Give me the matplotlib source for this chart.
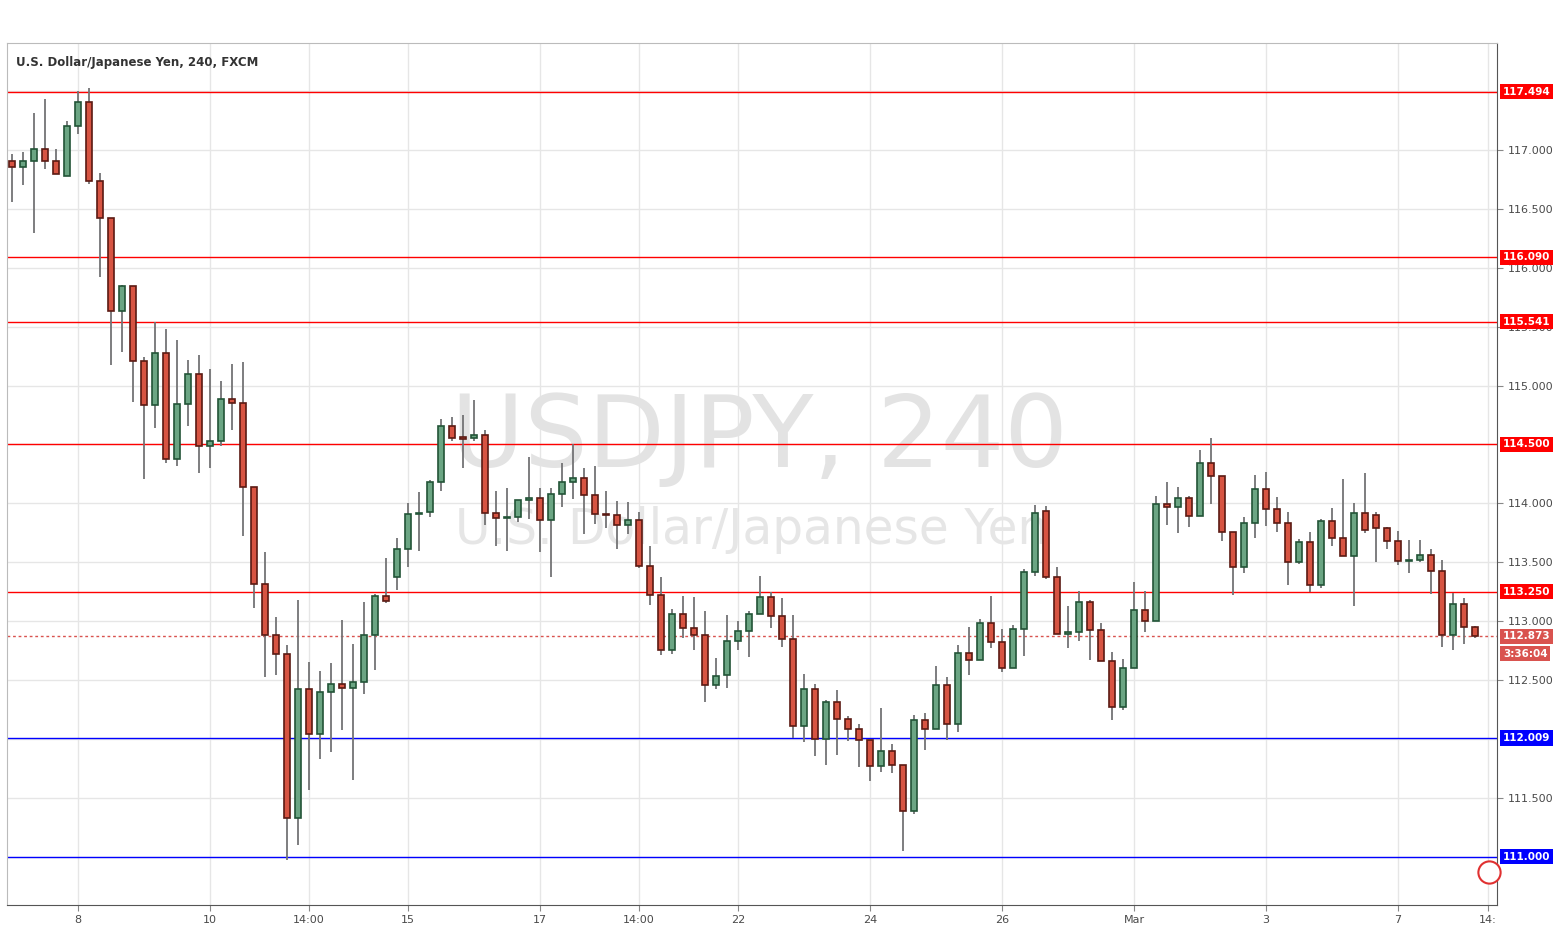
import matplotlib
matplotlib.use("Agg")
import matplotlib.pyplot as plt
import matplotlib.transforms as mtransforms
import numpy as np

opens = [116.904,116.853,116.904,117.005,116.904,116.776,117.201,117.404,116.734,116.420,
         115.630,115.842,115.206,114.832,115.274,114.374,114.841,115.095,114.487,114.527,
         114.883,114.849,114.136,113.313,112.880,112.719,111.326,112.421,112.040,112.396,
         112.464,112.430,112.481,112.880,113.211,113.372,113.610,113.910,113.924,114.179,
         114.654,114.555,114.552,114.578,113.916,113.873,113.887,114.026,114.043,113.856,
         114.077,114.179,114.213,114.068,113.907,113.899,113.814,113.856,113.466,113.220,
         112.753,113.058,112.939,112.880,112.456,112.541,112.829,112.914,113.058,113.203,
         113.041,112.846,112.108,112.422,111.997,112.311,112.167,112.082,111.989,111.768,
         111.895,111.777,111.386,112.158,112.082,112.456,112.125,112.727,112.668,112.982,
         112.821,112.600,112.931,113.415,113.933,113.372,112.889,112.906,113.160,112.923,
         112.659,112.269,112.600,113.092,112.999,113.999,113.966,114.043,113.890,114.340,
         114.230,113.754,113.457,113.831,114.119,113.950,113.831,113.500,113.670,113.304,
         113.848,113.703,113.551,113.916,113.899,113.788,113.678,113.508,113.517,113.559,
         113.423,112.880,113.143,112.948]
closes = [116.853,116.904,117.005,116.904,116.793,117.201,117.404,116.734,116.420,115.630,
          115.842,115.206,114.832,115.274,114.374,114.844,115.095,114.487,114.527,114.883,
          114.849,114.136,113.313,112.880,112.719,111.326,112.421,112.040,112.396,112.464,
          112.430,112.481,112.880,113.211,113.169,113.610,113.907,113.921,114.179,114.654,
          114.552,114.550,114.578,113.916,113.873,113.887,114.026,114.043,113.856,114.077,
          114.179,114.213,114.068,113.907,113.899,113.814,113.856,113.466,113.220,112.753,
          113.058,112.939,112.880,112.456,112.532,112.829,112.914,113.058,113.203,113.041,
          112.846,112.108,112.422,111.997,112.311,112.167,112.082,111.989,111.768,111.895,
          111.777,111.386,112.158,112.082,112.456,112.125,112.727,112.668,112.982,112.821,
          112.600,112.931,113.415,113.916,113.372,112.889,112.906,113.160,112.923,112.659,
          112.269,112.600,113.092,112.999,113.999,113.966,114.043,113.890,114.340,114.230,
          113.754,113.457,113.831,114.119,113.950,113.831,113.500,113.670,113.304,113.848,
          113.703,113.551,113.916,113.771,113.788,113.678,113.508,113.517,113.559,113.423,
          112.880,113.143,112.948,112.873]
highs = [116.966,116.983,117.314,117.433,117.008,117.246,117.498,117.526,116.805,116.420,
         115.854,115.842,115.242,115.543,115.480,115.387,115.217,115.260,115.141,115.039,
         115.183,115.200,114.136,113.587,113.036,112.798,113.180,112.654,112.577,112.645,
         113.010,112.806,113.163,113.231,113.536,113.706,114.001,114.097,114.199,114.716,
         114.733,114.750,114.878,114.623,114.105,114.131,114.026,114.394,114.131,114.131,
         114.343,114.504,114.300,114.317,114.105,114.020,114.012,113.927,113.641,113.372,
         113.101,113.211,113.203,113.089,112.688,113.050,112.999,113.084,113.381,113.245,
         113.194,113.050,112.549,112.464,112.328,112.413,112.193,112.125,111.989,112.260,
         111.955,111.777,112.201,112.218,112.617,112.524,112.795,112.948,113.016,113.214,
         112.931,112.965,113.440,113.984,113.975,113.460,113.129,113.254,113.177,112.982,
         112.736,112.676,113.330,113.254,114.060,114.182,114.136,114.060,114.450,114.552,
         114.230,113.754,113.882,114.241,114.267,114.052,113.924,113.695,113.754,113.865,
         113.958,114.204,114.001,114.255,113.924,113.797,113.763,113.689,113.689,113.610,
         113.517,113.237,113.194,112.957]
lows = [116.561,116.705,116.298,116.841,116.793,116.776,117.138,116.714,115.920,115.177,
        115.288,114.863,114.210,114.643,114.346,114.320,114.660,114.261,114.303,114.490,
        114.626,113.726,113.115,112.529,112.546,110.970,111.103,111.570,111.833,111.892,
        112.079,111.655,112.385,112.589,113.152,113.268,113.463,113.599,113.887,114.108,
        114.532,114.298,114.532,113.819,113.641,113.599,113.845,113.870,113.590,113.378,
        113.972,114.040,113.743,113.828,113.794,113.616,113.743,113.454,113.140,112.716,
        112.724,112.855,112.753,112.311,112.422,112.430,112.758,112.699,113.058,112.940,
        112.784,112.006,111.972,111.853,111.777,111.861,111.980,111.760,111.641,111.717,
        111.709,111.046,111.361,111.904,112.082,111.989,112.057,112.541,112.668,112.775,
        112.566,112.600,112.707,113.381,113.355,112.889,112.770,112.829,112.668,112.659,
        112.159,112.243,112.600,112.906,112.999,113.814,113.746,113.797,113.890,113.992,
        113.684,113.220,113.412,113.703,113.805,113.754,113.304,113.483,113.245,113.279,
        113.636,113.551,113.126,113.746,113.500,113.610,113.474,113.406,113.500,113.228,
        112.778,112.753,112.804,112.855]

tick_pos = [6, 18, 27, 36, 48, 57, 66, 78, 90, 102, 114, 126, 134.2]
tick_labels = ["8", "10", "14:00", "15", "17", "14:00", "22", "24", "26", "Mar", "3", "7", "14:"]
price_ticks = [111.5, 112.5, 113.0, 113.5, 114.0, 115.0, 115.5, 116.0, 116.5, 117.0]

level_values = [117.494, 116.090, 115.541, 114.500, 113.250, 112.009, 111.000]
level_colors = ["#ff0000", "#ff0000", "#ff0000", "#ff0000", "#ff0000", "#0000ff", "#0000ff"]
last_price = 112.873
countdown = "3:36:04"

fig = plt.figure(figsize=(15.55, 9.31), dpi=100)
ax = fig.add_axes([7/1555, 26/931, 1490/1555, 862/931])
x = np.arange(len(opens))
o = np.array(opens); c = np.array(closes); h = np.array(highs); l = np.array(lows)
up = c >= o

ax.set_xlim(-0.455, 135.0)
ax.set_ylim(110.591, 117.908)

for t in tick_pos:
    ax.axvline(t, color="#e6e6e6", lw=1, zorder=0)
for yv in np.arange(110.5, 118.0, 0.5):
    ax.axhline(yv, color="#e6e6e6", lw=1, zorder=0)

ax.text(0.505, 0.54, "USDJPY, 240", transform=ax.transAxes, ha="center", va="center",
        fontsize=72, color="#e3e3e3", zorder=0.5)
ax.text(0.50, 0.435, "U.S. Dollar/Japanese Yen", transform=ax.transAxes, ha="center", va="center",
        fontsize=35, color="#e6e6e6", zorder=0.5)

for yv, col in zip(level_values, level_colors):
    ax.axhline(yv, color=col, lw=1, zorder=1)
ax.axhline(last_price, color="#d9534f", lw=1, ls=(0, (2, 2)), zorder=1)

ax.vlines(x, l, h, color="#737375", lw=1.3, zorder=2)
bottoms = np.minimum(o, c)
heights = np.maximum(np.abs(c - o), 0.012)
ax.bar(x[up], heights[up], bottom=bottoms[up], width=0.58, color="#6ba583",
       edgecolor="#225437", lw=1.2, zorder=3)
ax.bar(x[~up], heights[~up], bottom=bottoms[~up], width=0.58, color="#d75442",
       edgecolor="#5b1a13", lw=1.2, zorder=3)

ax.set_xticks(tick_pos)
ax.set_xticklabels(tick_labels)
ax.yaxis.tick_right()
ax.set_yticks(price_ticks)
ax.set_yticklabels([f"{v:.3f}" for v in price_ticks])
ax.tick_params(axis="both", labelsize=8, colors="#4a4a4a", length=4, color="#888888")
for s in ["top", "left"]:
    ax.spines[s].set_color("#bbbbbb")
for s in ["right", "bottom"]:
    ax.spines[s].set_color("#555555")

tr = mtransforms.blended_transform_factory(ax.transAxes, ax.transData)
for yv, col in zip(level_values, level_colors):
    ax.text(1.004, yv, f"{yv:.3f}", transform=tr, ha="left", va="center", fontsize=7.5,
            color="white", fontweight="bold",
            bbox=dict(boxstyle="square,pad=0.25", fc=col, ec="none"), zorder=5, clip_on=False)
ax.text(1.004, last_price, f"{last_price:.3f}", transform=tr, ha="left", va="center",
        fontsize=7.5, color="white", fontweight="bold",
        bbox=dict(boxstyle="square,pad=0.25", fc="#d9534f", ec="none"), zorder=5, clip_on=False)
ax.text(1.004, last_price - 0.15, countdown, transform=tr, ha="left", va="center",
        fontsize=7.5, color="white", fontweight="bold",
        bbox=dict(boxstyle="square,pad=0.25", fc="#d9534f", ec="none"), zorder=5, clip_on=False)

ax.text(0.006, 0.985, "U.S. Dollar/Japanese Yen, 240, FXCM", transform=ax.transAxes,
        ha="left", va="top", fontsize=8.5, color="#333333", fontweight="bold")

ax.plot([134.25], [110.87], marker="o", ms=16, mfc="white", mec="#e03030", mew=1.5,
        zorder=6, clip_on=False)

fig.savefig("out.png", dpi=100)
